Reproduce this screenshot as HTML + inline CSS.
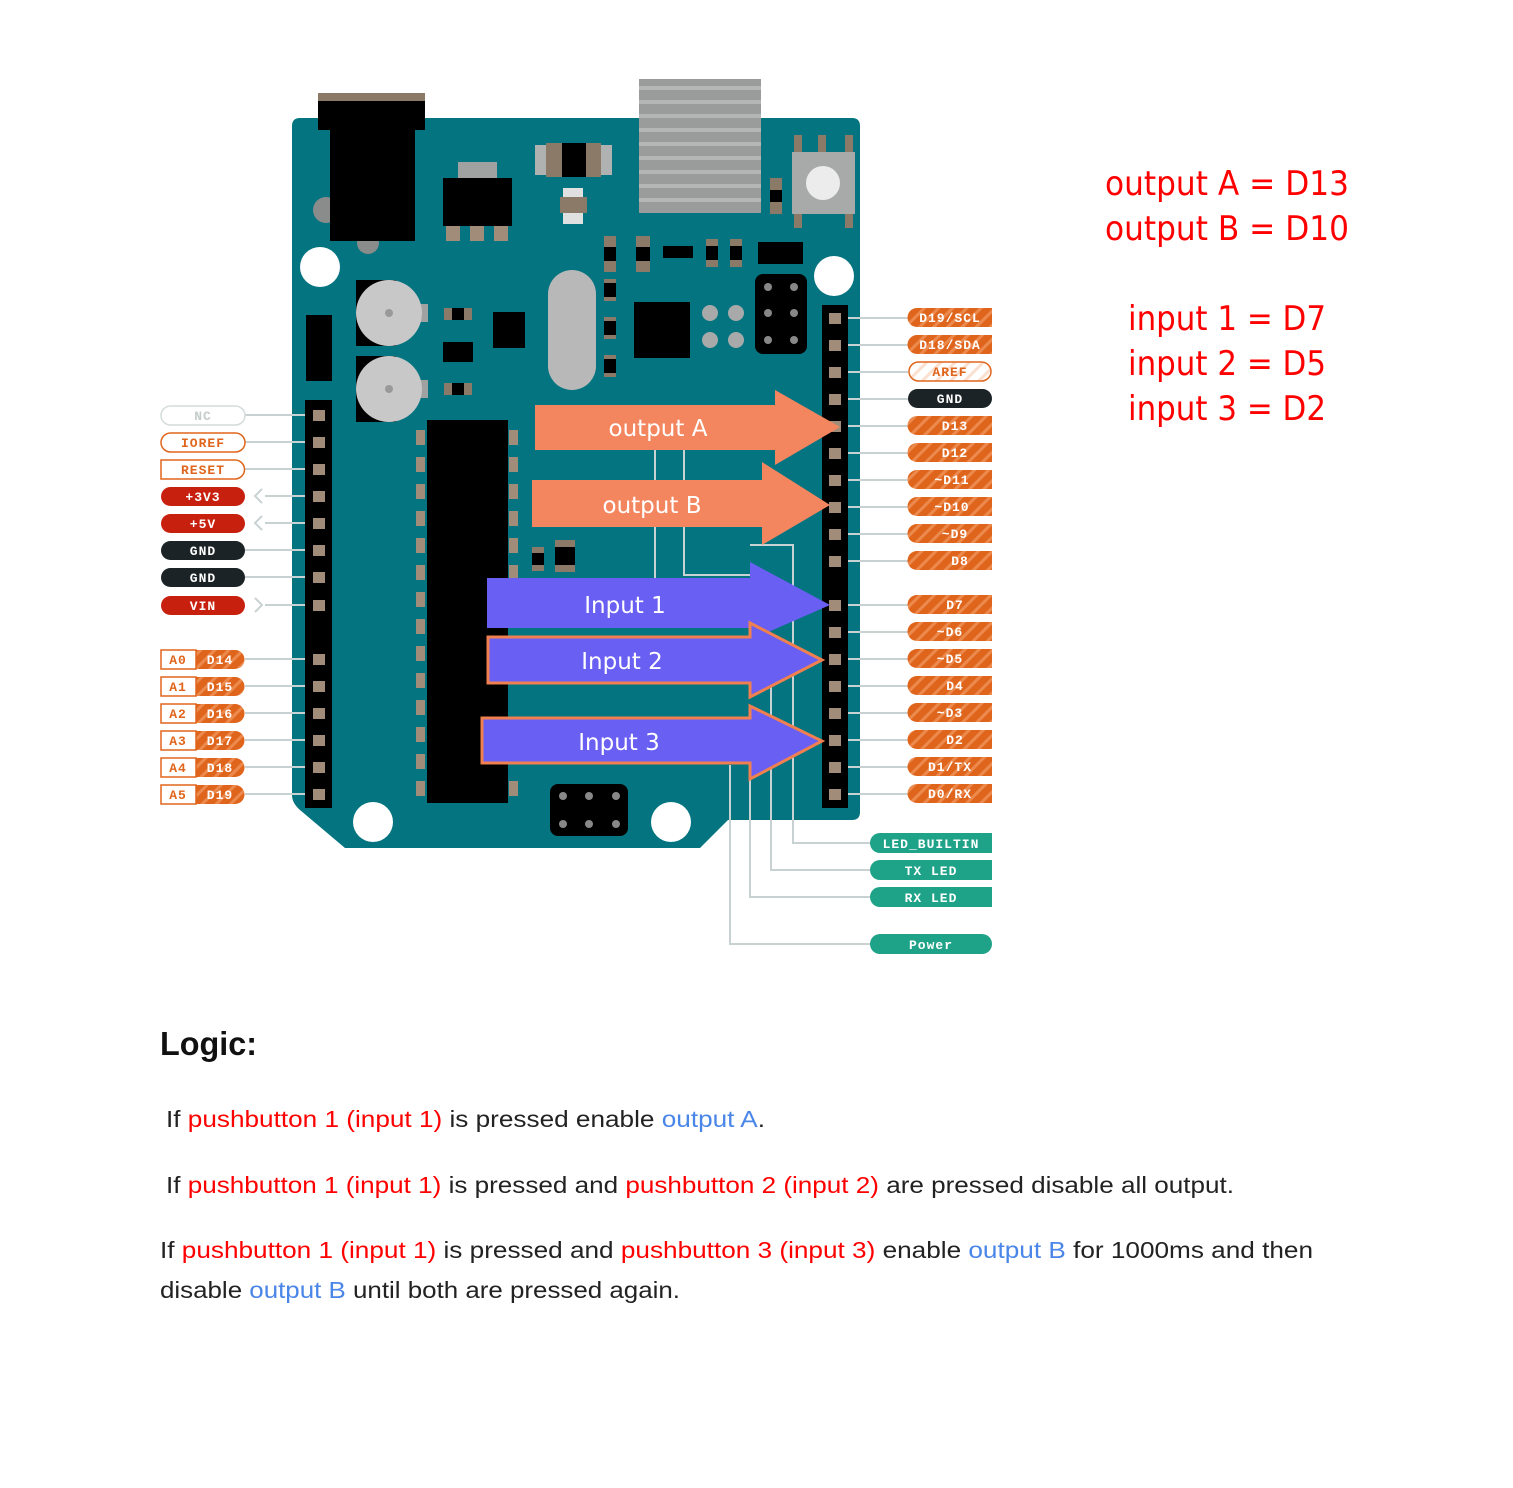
<!DOCTYPE html>
<html><head><meta charset="utf-8"><style>
html,body{margin:0;padding:0;background:#fff}
svg{display:block}
.pl{font-family:"Liberation Mono",monospace;font-weight:bold;font-size:13px;text-anchor:middle;letter-spacing:1px}
.ar{font-family:"DejaVu Sans","Liberation Sans",sans-serif;font-size:23px;fill:#fff;text-anchor:middle}
.rt{font-family:"DejaVu Sans","Liberation Sans",sans-serif;font-size:34px;fill:#f00}
.lg{font-family:"Liberation Sans",sans-serif;font-size:23px;fill:#222}
.r{fill:#f00}.b{fill:#4a86e8}
</style></head><body>
<svg width="1513" height="1488" viewBox="0 0 1513 1488" xmlns="http://www.w3.org/2000/svg">
<defs>
<pattern id="st" width="10" height="10" patternUnits="userSpaceOnUse" patternTransform="rotate(45)">
<rect width="10" height="10" fill="#e0651c"/><rect width="3" height="10" fill="#ec8a4e"/>
</pattern>
<pattern id="stl" width="10" height="10" patternUnits="userSpaceOnUse" patternTransform="rotate(45)">
<rect width="10" height="10" fill="#fff"/><rect width="3" height="10" fill="#fbe0cf"/>
</pattern>
</defs>
<!-- usb heatsink -->
<rect x="639" y="79" width="122" height="134" fill="#9a9c9c"/>
<g fill="#b4b6b6"><rect x="639" y="86" width="122" height="4"/><rect x="639" y="100" width="122" height="4"/><rect x="639" y="114" width="122" height="4"/><rect x="639" y="128" width="122" height="4"/><rect x="639" y="142" width="122" height="4"/><rect x="639" y="156" width="122" height="4"/><rect x="639" y="170" width="122" height="4"/><rect x="639" y="184" width="122" height="4"/><rect x="639" y="198" width="122" height="4"/></g>
<!-- board -->
<path d="M300,118 H852 Q860,118 860,126 V812 Q860,820 852,820 H728 L700,848 H345 L300,810 Q292,803 292,795 V126 Q292,118 300,118 Z" fill="#037480"/>
<rect x="639" y="118" width="122" height="95" fill="#9a9c9c"/>
<g fill="#b4b6b6"><rect x="639" y="128" width="122" height="4"/><rect x="639" y="142" width="122" height="4"/><rect x="639" y="156" width="122" height="4"/><rect x="639" y="170" width="122" height="4"/><rect x="639" y="184" width="122" height="4"/><rect x="639" y="198" width="122" height="4"/></g>
<!-- power jack -->
<circle cx="326" cy="210" r="13" fill="#8a8c8c"/>
<circle cx="368" cy="243" r="11" fill="#8a8c8c"/>
<rect x="318" y="93" width="107" height="8" fill="#8c7a68"/>
<rect x="318" y="101" width="107" height="29" fill="#000"/>
<rect x="330" y="130" width="85" height="111" fill="#000"/>
<!-- regulator -->
<rect x="458" y="162" width="39" height="16" fill="#a0a2a2"/>
<rect x="443" y="178" width="69" height="48" fill="#000"/>
<g fill="#a08c78"><rect x="446" y="226" width="14" height="15"/><rect x="470" y="226" width="14" height="15"/><rect x="494" y="226" width="14" height="15"/></g>
<!-- top smd -->
<rect x="535" y="145" width="77" height="30" fill="#b0b2b2"/>
<rect x="546" y="143" width="55" height="34" fill="#8c7a68"/>
<rect x="562" y="143" width="24" height="34" fill="#000"/>
<rect x="563" y="188" width="20" height="36" fill="#e0e0e0"/><rect x="560" y="197" width="27" height="16" fill="#8c7a68"/>
<rect x="770" y="178" width="12" height="36" fill="#8c7a68"/><rect x="770" y="190" width="12" height="12" fill="#000"/>
<!-- reset button -->
<g fill="#8c7a68"><rect x="794" y="135" width="8" height="20"/><rect x="818" y="135" width="8" height="20"/><rect x="845" y="135" width="8" height="20"/><rect x="794" y="208" width="8" height="20"/><rect x="845" y="208" width="8" height="20"/></g>
<rect x="792" y="152" width="63" height="62" fill="#a8aaaa"/>
<circle cx="823" cy="183" r="17" fill="#ececec"/>
<!-- mounting holes -->
<circle cx="320" cy="267" r="20" fill="#fff"/><circle cx="834" cy="276" r="20" fill="#fff"/>
<circle cx="373" cy="822" r="20" fill="#fff"/><circle cx="671" cy="822" r="20" fill="#fff"/>
<!-- caps -->
<rect x="356" y="280" width="40" height="66" fill="#000"/><rect x="356" y="356" width="40" height="66" fill="#000"/>
<rect x="418" y="304" width="10" height="18" fill="#a0a2a2"/><rect x="418" y="380" width="10" height="18" fill="#a0a2a2"/>
<circle cx="389" cy="313" r="33" fill="#c8c8c8"/><circle cx="389" cy="389" r="33" fill="#c8c8c8"/>
<circle cx="389" cy="313" r="4" fill="#999"/><circle cx="389" cy="389" r="4" fill="#999"/>
<rect x="306" y="315" width="26" height="66" fill="#000"/>
<rect x="444" y="308" width="28" height="12" fill="#8c7a68"/><rect x="452" y="308" width="12" height="12" fill="#000"/>
<rect x="444" y="383" width="28" height="12" fill="#8c7a68"/><rect x="452" y="383" width="12" height="12" fill="#000"/>
<rect x="443" y="342" width="30" height="20" fill="#000"/>
<rect x="493" y="312" width="32" height="36" fill="#000"/>
<rect x="548" y="270" width="48" height="120" rx="24" fill="#b8b8b8"/>
<g fill="#8c7a68"><rect x="604" y="236" width="12" height="36"/><rect x="604" y="279" width="12" height="22"/><rect x="604" y="317" width="12" height="22"/><rect x="604" y="355" width="12" height="22"/><rect x="636" y="236" width="14" height="36"/><rect x="706" y="239" width="12" height="28"/><rect x="730" y="239" width="12" height="28"/></g>
<g fill="#000"><rect x="604" y="247" width="12" height="14"/><rect x="604" y="283" width="12" height="14"/><rect x="604" y="321" width="12" height="14"/><rect x="604" y="359" width="12" height="14"/><rect x="636" y="247" width="14" height="14"/><rect x="706" y="246" width="12" height="14"/><rect x="730" y="246" width="12" height="14"/><rect x="663" y="246" width="30" height="12"/><rect x="758" y="242" width="45" height="22"/></g>
<rect x="634" y="302" width="56" height="56" fill="#000"/>
<g fill="#a8aaaa"><circle cx="710" cy="313" r="8"/><circle cx="736" cy="313" r="8"/><circle cx="710" cy="340" r="8"/><circle cx="736" cy="340" r="8"/></g>
<rect x="755" y="274" width="52" height="80" rx="8" fill="#000"/>
<g fill="#888"><circle cx="768" cy="287" r="4"/><circle cx="794" cy="287" r="4"/><circle cx="768" cy="313" r="4"/><circle cx="794" cy="313" r="4"/><circle cx="768" cy="340" r="4"/><circle cx="794" cy="340" r="4"/></g>
<!-- main chip -->
<g fill="#a08c78">
<rect x="416" y="430" width="9" height="15"/><rect x="416" y="457" width="9" height="15"/><rect x="416" y="484" width="9" height="15"/><rect x="416" y="511" width="9" height="15"/><rect x="416" y="538" width="9" height="15"/><rect x="416" y="565" width="9" height="15"/><rect x="416" y="592" width="9" height="15"/><rect x="416" y="619" width="9" height="15"/><rect x="416" y="646" width="9" height="15"/><rect x="416" y="673" width="9" height="15"/><rect x="416" y="700" width="9" height="15"/><rect x="416" y="727" width="9" height="15"/><rect x="416" y="754" width="9" height="15"/><rect x="416" y="781" width="9" height="15"/>
<rect x="509" y="430" width="9" height="15"/><rect x="509" y="457" width="9" height="15"/><rect x="509" y="484" width="9" height="15"/><rect x="509" y="511" width="9" height="15"/><rect x="509" y="538" width="9" height="15"/><rect x="509" y="565" width="9" height="15"/><rect x="509" y="781" width="9" height="15"/>
</g>
<rect x="427" y="420" width="81" height="383" fill="#000"/>
<rect x="532" y="547" width="12" height="24" fill="#8c7a68"/><rect x="532" y="553" width="12" height="12" fill="#000"/>
<rect x="555" y="540" width="20" height="32" fill="#8c7a68"/><rect x="555" y="547" width="20" height="18" fill="#000"/>
<!-- bottom ICSP -->
<rect x="550" y="784" width="78" height="52" rx="8" fill="#000"/>
<g fill="#888"><circle cx="563" cy="796" r="4"/><circle cx="589" cy="796" r="4"/><circle cx="616" cy="796" r="4"/><circle cx="563" cy="824" r="4"/><circle cx="589" cy="824" r="4"/><circle cx="616" cy="824" r="4"/></g>
<!-- connector lines -->
<g stroke="#c9d2d3" stroke-width="2" fill="none">
<path d="M655,450 V578 M684,450 V575 H750 M750,545 H793 V843 H870 M771,640 V870 H870 M750,760 V897 H870 M730,765 V944 H870"/>
<path d="M245,415 H319 M245,442 H319 M245,469 H319 M265,496 H319 M265,523 H319 M245,550 H319 M245,577 H319 M265,605 H319 M245,659 H319 M245,686 H319 M245,713 H319 M245,740 H319 M245,767 H319 M245,794 H319"/>
<path d="M262,489 L255,496 L262,503 M262,516 L255,523 L262,530 M255,598 L262,605 L255,612"/>
<path d="M835,318 H908 M835,345 H908 M835,372 H908 M835,399 H908 M835,426 H908 M835,453 H908 M835,480 H908 M835,507 H908 M835,534 H908 M835,561 H908 M835,605 H908 M835,632 H908 M835,659 H908 M835,686 H908 M835,713 H908 M835,740 H908 M835,767 H908 M835,794 H908"/>
</g>
<!-- headers -->
<rect x="305" y="400" width="27" height="408" fill="#000"/>
<rect x="822" y="305" width="26" height="503" fill="#000"/>
<g fill="#a08c78">
<rect x="313" y="410" width="12" height="11"/><rect x="313" y="437" width="12" height="11"/><rect x="313" y="464" width="12" height="11"/><rect x="313" y="491" width="12" height="11"/><rect x="313" y="518" width="12" height="11"/><rect x="313" y="545" width="12" height="11"/><rect x="313" y="572" width="12" height="11"/><rect x="313" y="600" width="12" height="11"/><rect x="313" y="654" width="12" height="11"/><rect x="313" y="681" width="12" height="11"/><rect x="313" y="708" width="12" height="11"/><rect x="313" y="735" width="12" height="11"/><rect x="313" y="762" width="12" height="11"/><rect x="313" y="789" width="12" height="11"/>
<rect x="829" y="313" width="12" height="11"/><rect x="829" y="340" width="12" height="11"/><rect x="829" y="367" width="12" height="11"/><rect x="829" y="394" width="12" height="11"/><rect x="829" y="421" width="12" height="11"/><rect x="829" y="448" width="12" height="11"/><rect x="829" y="475" width="12" height="11"/><rect x="829" y="502" width="12" height="11"/><rect x="829" y="529" width="12" height="11"/><rect x="829" y="556" width="12" height="11"/><rect x="829" y="600" width="12" height="11"/><rect x="829" y="627" width="12" height="11"/><rect x="829" y="654" width="12" height="11"/><rect x="829" y="681" width="12" height="11"/><rect x="829" y="708" width="12" height="11"/><rect x="829" y="735" width="12" height="11"/><rect x="829" y="762" width="12" height="11"/><rect x="829" y="789" width="12" height="11"/>
</g>
<!-- arrows -->
<path d="M535,405 H775 V390 L840,427 L775,465 V450 H535 Z" fill="#f4865f"/>
<path d="M532,480 H762 V462 L830,505 L762,545 V527 H532 Z" fill="#f4865f"/>
<path d="M487,578 H750 V562 L830,605 L750,640 V628 H487 Z" fill="#6a5ff3"/>
<path d="M488,637 H750 V623 L822,660 L750,697 V683 H488 Z" fill="#6a5ff3" stroke="#f0804f" stroke-width="3"/>
<path d="M482,718 H750 V706 L822,741 L750,779 V763 H482 Z" fill="#6a5ff3" stroke="#f0804f" stroke-width="3"/>
<text class="ar" x="658" y="436">output A</text>
<text class="ar" x="652" y="513">output B</text>
<text class="ar" x="625" y="613">Input 1</text>
<text class="ar" x="622" y="669">Input 2</text>
<text class="ar" x="619" y="750">Input 3</text>
<!-- left labels -->
<rect x="161" y="406" width="84" height="19" rx="9.5" fill="#fff" stroke="#d4dcdc" stroke-width="1.5"/><text class="pl" x="203" y="420" fill="#c4cccc">NC</text>
<rect x="161" y="433" width="84" height="19" rx="9.5" fill="#fff" stroke="#e0651c" stroke-width="1.5"/><text class="pl" x="203" y="447" fill="#e0651c">IOREF</text>
<path d="M161,460 H235 A9.5,9.5 0 0 1 235,479 H161 Z" fill="#fff" stroke="#e0651c" stroke-width="1.5"/><text class="pl" x="203" y="474" fill="#e0651c">RESET</text>
<rect x="161" y="487" width="84" height="19" rx="9.5" fill="#c8200e"/><text class="pl" x="203" y="501" fill="#fff">+3V3</text>
<rect x="161" y="514" width="84" height="19" rx="9.5" fill="#c8200e"/><text class="pl" x="203" y="528" fill="#fff">+5V</text>
<rect x="161" y="541" width="84" height="19" rx="9.5" fill="#1c2326"/><text class="pl" x="203" y="555" fill="#fff">GND</text>
<rect x="161" y="568" width="84" height="19" rx="9.5" fill="#1c2326"/><text class="pl" x="203" y="582" fill="#fff">GND</text>
<rect x="161" y="596" width="84" height="19" rx="9.5" fill="#c8200e"/><text class="pl" x="203" y="610" fill="#fff">VIN</text>
<g>
<path d="M196,650 H235 A9.5,9.5 0 0 1 235,669 H196 Z" fill="url(#st)"/><rect x="161" y="650" width="35" height="19" fill="#fff" stroke="#e0651c" stroke-width="1.5"/><text class="pl" x="178" y="664" fill="#e0651c">A0</text><text class="pl" x="220" y="664" fill="#fff">D14</text>
<path d="M196,677 H235 A9.5,9.5 0 0 1 235,696 H196 Z" fill="url(#st)"/><rect x="161" y="677" width="35" height="19" fill="#fff" stroke="#e0651c" stroke-width="1.5"/><text class="pl" x="178" y="691" fill="#e0651c">A1</text><text class="pl" x="220" y="691" fill="#fff">D15</text>
<path d="M196,704 H235 A9.5,9.5 0 0 1 235,723 H196 Z" fill="url(#st)"/><rect x="161" y="704" width="35" height="19" fill="#fff" stroke="#e0651c" stroke-width="1.5"/><text class="pl" x="178" y="718" fill="#e0651c">A2</text><text class="pl" x="220" y="718" fill="#fff">D16</text>
<path d="M196,731 H235 A9.5,9.5 0 0 1 235,750 H196 Z" fill="url(#st)"/><rect x="161" y="731" width="35" height="19" fill="#fff" stroke="#e0651c" stroke-width="1.5"/><text class="pl" x="178" y="745" fill="#e0651c">A3</text><text class="pl" x="220" y="745" fill="#fff">D17</text>
<path d="M196,758 H235 A9.5,9.5 0 0 1 235,777 H196 Z" fill="url(#st)"/><rect x="161" y="758" width="35" height="19" fill="#fff" stroke="#e0651c" stroke-width="1.5"/><text class="pl" x="178" y="772" fill="#e0651c">A4</text><text class="pl" x="220" y="772" fill="#fff">D18</text>
<path d="M196,785 H235 A9.5,9.5 0 0 1 235,804 H196 Z" fill="url(#st)"/><rect x="161" y="785" width="35" height="19" fill="#fff" stroke="#e0651c" stroke-width="1.5"/><text class="pl" x="178" y="799" fill="#e0651c">A5</text><text class="pl" x="220" y="799" fill="#fff">D19</text>
</g>
<!-- right labels -->
<g>
<path d="M917,308 H992 V327 H917 A9.5,9.5 0 0 1 917,308 Z" fill="url(#st)"/><text class="pl" x="950" y="322" fill="#fff">D19/SCL</text>
<path d="M917,335 H992 V354 H917 A9.5,9.5 0 0 1 917,335 Z" fill="url(#st)"/><text class="pl" x="950" y="349" fill="#fff">D18/SDA</text>
<rect x="909" y="362" width="82" height="19" rx="9.5" fill="url(#stl)" stroke="#e0651c" stroke-width="1.5"/><text class="pl" x="950" y="376" fill="#e0651c">AREF</text>
<rect x="908" y="389" width="84" height="19" rx="9.5" fill="#1c2326"/><text class="pl" x="950" y="403" fill="#fff">GND</text>
<path d="M917,416 H992 V435 H917 A9.5,9.5 0 0 1 917,416 Z" fill="url(#st)"/><text class="pl" x="955" y="430" fill="#fff">D13</text>
<path d="M917,443 H992 V462 H917 A9.5,9.5 0 0 1 917,443 Z" fill="url(#st)"/><text class="pl" x="955" y="457" fill="#fff">D12</text>
<path d="M917,470 H992 V489 H917 A9.5,9.5 0 0 1 917,470 Z" fill="url(#st)"/><text class="pl" x="952" y="484" fill="#fff">~D11</text>
<path d="M917,497 H992 V516 H917 A9.5,9.5 0 0 1 917,497 Z" fill="url(#st)"/><text class="pl" x="952" y="511" fill="#fff">~D10</text>
<path d="M917,524 H992 V543 H917 A9.5,9.5 0 0 1 917,524 Z" fill="url(#st)"/><text class="pl" x="955" y="538" fill="#fff">~D9</text>
<path d="M917,551 H992 V570 H917 A9.5,9.5 0 0 1 917,551 Z" fill="url(#st)"/><text class="pl" x="960" y="565" fill="#fff">D8</text>
<path d="M917,595 H992 V614 H917 A9.5,9.5 0 0 1 917,595 Z" fill="url(#st)"/><text class="pl" x="955" y="609" fill="#fff">D7</text>
<path d="M917,622 H992 V641 H917 A9.5,9.5 0 0 1 917,622 Z" fill="url(#st)"/><text class="pl" x="950" y="636" fill="#fff">~D6</text>
<path d="M917,649 H992 V668 H917 A9.5,9.5 0 0 1 917,649 Z" fill="url(#st)"/><text class="pl" x="950" y="663" fill="#fff">~D5</text>
<path d="M917,676 H992 V695 H917 A9.5,9.5 0 0 1 917,676 Z" fill="url(#st)"/><text class="pl" x="955" y="690" fill="#fff">D4</text>
<path d="M917,703 H992 V722 H917 A9.5,9.5 0 0 1 917,703 Z" fill="url(#st)"/><text class="pl" x="950" y="717" fill="#fff">~D3</text>
<path d="M917,730 H992 V749 H917 A9.5,9.5 0 0 1 917,730 Z" fill="url(#st)"/><text class="pl" x="955" y="744" fill="#fff">D2</text>
<path d="M917,757 H992 V776 H917 A9.5,9.5 0 0 1 917,757 Z" fill="url(#st)"/><text class="pl" x="950" y="771" fill="#fff">D1/TX</text>
<path d="M917,784 H992 V803 H917 A9.5,9.5 0 0 1 917,784 Z" fill="url(#st)"/><text class="pl" x="950" y="798" fill="#fff">D0/RX</text>
</g>
<g>
<path d="M880,833 H992 V853 H880 A10,10 0 0 1 880,833 Z" fill="#1fa388"/><text class="pl" x="931" y="848" fill="#fff">LED_BUILTIN</text>
<path d="M880,860 H992 V880 H880 A10,10 0 0 1 880,860 Z" fill="#1fa388"/><text class="pl" x="931" y="875" fill="#fff">TX LED</text>
<path d="M880,887 H992 V907 H880 A10,10 0 0 1 880,887 Z" fill="#1fa388"/><text class="pl" x="931" y="902" fill="#fff">RX LED</text>
<rect x="870" y="934" width="122" height="20" rx="10" fill="#1fa388"/><text class="pl" x="931" y="949" fill="#fff">Power</text>
</g>
<!-- right text -->
<text class="rt" x="1105" y="195" textLength="244" lengthAdjust="spacingAndGlyphs">output A = D13</text>
<text class="rt" x="1105" y="240" textLength="244" lengthAdjust="spacingAndGlyphs">output B = D10</text>
<text class="rt" x="1128" y="330" textLength="198" lengthAdjust="spacingAndGlyphs">input 1 = D7</text>
<text class="rt" x="1128" y="375" textLength="198" lengthAdjust="spacingAndGlyphs">input 2 = D5</text>
<text class="rt" x="1128" y="420" textLength="198" lengthAdjust="spacingAndGlyphs">input 3 = D2</text>
<!-- logic -->
<text x="160" y="1055" font-family="Liberation Sans, sans-serif" font-weight="bold" font-size="33" fill="#111" textLength="97" lengthAdjust="spacingAndGlyphs">Logic:</text>
<text class="lg" x="166" y="1127" textLength="599" lengthAdjust="spacingAndGlyphs">If <tspan class="r">pushbutton 1 (input 1)</tspan> is pressed enable <tspan class="b">output A</tspan>.</text>
<text class="lg" x="166" y="1193" textLength="1068" lengthAdjust="spacingAndGlyphs">If <tspan class="r">pushbutton 1 (input 1)</tspan> is pressed and <tspan class="r">pushbutton 2 (input 2)</tspan> are pressed disable all output.</text>
<text class="lg" x="160" y="1258" textLength="1153" lengthAdjust="spacingAndGlyphs">If <tspan class="r">pushbutton 1 (input 1)</tspan> is pressed and <tspan class="r">pushbutton 3 (input 3)</tspan> enable <tspan class="b">output B</tspan> for 1000ms and then</text>
<text class="lg" x="160" y="1298" textLength="520" lengthAdjust="spacingAndGlyphs">disable <tspan class="b">output B</tspan> until both are pressed again.</text>
</svg>
</body></html>
